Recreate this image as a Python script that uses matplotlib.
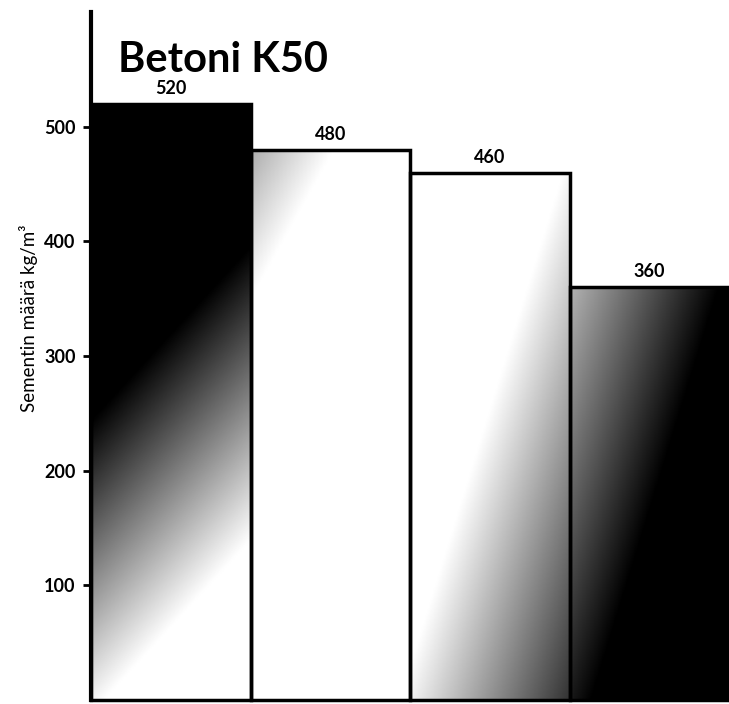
import numpy as np
import matplotlib.pyplot as plt

# data
categories = ["A", "B", "C", "D"]
values = [520, 480, 460, 360]
value_labels = ["520", "480", "460", "360"]
yticks = [100, 200, 300, 400, 500]

# gradient shading per bar (a*v - b*u + c, or a*u - b*v + c), u/v in 0..1 over the axes
shade = [
    ("v", 2.33, 2.35, 0.05),
    ("v", 1.5, 2.5, -0.25),
    ("u", 3.0, 1.0, -1.45),
    ("u", 3.0, 1.0, -1.35),
]

plt.rcParams["font.family"] = ["Lato", "DejaVu Sans"]

fig = plt.figure(figsize=(7.29, 7.04), dpi=100)
ax = fig.add_axes([91 / 729, 4 / 704, 1 - 91 / 729, 688 / 704])

x = np.arange(len(categories))
ax.set_xlim(-0.5, len(categories) - 0.5)
ax.set_ylim(0, 600)

bars = ax.bar(x, values, width=1.0, facecolor="none", edgecolor="black",
              linewidth=2.5, zorder=3, clip_on=False)

for i, (b, s) in enumerate(zip(bars, shade)):
    x0, x1 = x[i] - 0.5, x[i] + 0.5
    h = values[i]
    xs = np.linspace(x0, x1, 200)
    ys = np.linspace(0, h, 300)
    X, Y = np.meshgrid(xs, ys)
    u = (X + 0.5) / len(categories)
    v = Y / 600
    kind, a, bb, c = s
    if kind == "v":
        d = a * v - bb * u + c
    else:
        d = a * u - bb * v + c
    d = np.clip(d, 0, 1)
    im = ax.imshow(d, extent=(x0, x1, 0, h), origin="lower", cmap="gray_r",
                   vmin=0, vmax=1, aspect="auto", zorder=2)
    im.set_clip_path(b)
    ax.text(x[i], h + 6, value_labels[i], ha="center", va="bottom",
            fontsize=13, fontweight="bold", zorder=4)

ax.set_xticks([])
ax.set_yticks(yticks)
ax.set_yticklabels([str(t) for t in yticks], fontsize=13, fontweight="bold")
ax.tick_params(axis="y", length=6, width=2, pad=5)
for side in ["top", "right", "bottom"]:
    ax.spines[side].set_visible(False)
ax.spines["left"].set_linewidth(3)

fig.text(118 / 729, 1 - 72 / 704, "Betoni K50", fontsize=30, fontweight="bold",
         ha="left", va="baseline")
fig.text(28 / 729, 1 - 318 / 704, "Sementin määrä kg/m³", rotation=90,
         fontsize=13.5, ha="center", va="center")

fig.savefig("out.png", dpi=100)
